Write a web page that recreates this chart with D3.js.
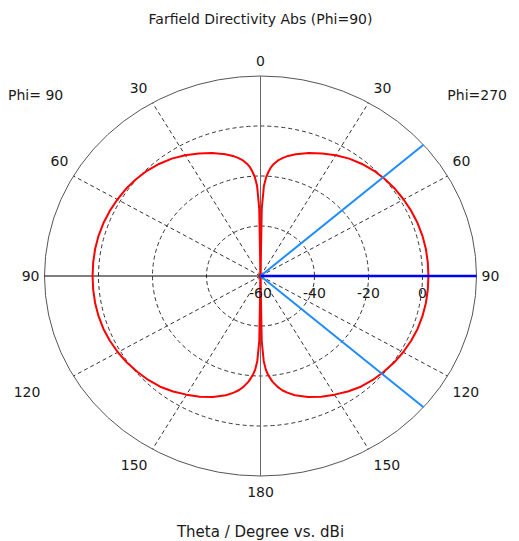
<!DOCTYPE html>
<html>
<head>
<meta charset="utf-8">
<script src="https://cdn.jsdelivr.net/npm/d3@7"></script>
<style>
  body { margin: 0; background: #fff; }
  text { font-family: "DejaVu Sans", Verdana, sans-serif; font-size: 14px; fill: #1a1a1a; }
</style>
</head>
<body>
<div id="chart"></div>
<script>
// theta in degrees, directivity in dBi
var thetaDeg = [0, 1, 2, 3, 4, 5, 6, 8, 10, 12, 15, 20, 25, 30, 35, 40, 45, 50, 55, 60,
                65, 70, 75, 80, 85, 90, 95, 100, 105, 110, 115, 120, 125, 130, 135, 140,
                145, 150, 155, 160, 165, 168, 170, 172, 174, 175, 176, 177, 178, 179, 180];
var directivity = [-60, -33, -24, -20.5, -18.3, -16.5, -15.2, -13.3, -12, -10.9, -9.6, -7.6, -5.9, -4.2, -2.7, -1.5, -0.5, 0.2, 0.8, 1.2,
                   1.6, 1.9, 2.1, 2.2, 2.2, 2.2, 2.2, 2.2, 2.1, 1.9, 1.5, 1.0, 0.4, -0.4, -1.2, -2.2,
                   -3.6, -5.2, -6.7, -8.5, -10.6, -12.3, -13.6, -15.3, -17.5, -19, -20.5, -22.5, -26, -34, -60];
var angleTicks = [0, 30, 60, 90, 120, 150, 180];
var spokeAngles = [30, 60, 120, 150];
var ringTicks = [-60, -40, -20, 0];
var ringGrid = [-40, -20, 0];
var mainLobe = 90;
var beamEdges = [49, 131];

var width = 519, height = 541;
var cx = 260.5, cy = 276, rx = 216, ry = 200;

var rX = d3.scaleLinear().domain([-60, 20]).range([0, rx]).clamp(true);
var rY = d3.scaleLinear().domain([-60, 20]).range([0, ry]).clamp(true);

var rad = function(d) { return d * Math.PI / 180; };
function px(th, db, side) { return cx + side * rX(db) * Math.sin(rad(th)); }
function py(th, db) { return cy - rY(db) * Math.cos(rad(th)); }

var svg = d3.select("#chart").append("svg")
        .attr("width", width)
        .attr("height", height);

svg.append("rect").attr("width", width).attr("height", height).attr("fill", "#fff");

// dashed grid rings
svg.selectAll("ellipse.ring").data(ringGrid).enter().append("ellipse")
        .attr("class", "ring")
        .attr("cx", cx).attr("cy", cy)
        .attr("rx", function(d) { return rX(d); })
        .attr("ry", function(d) { return rY(d); })
        .attr("fill", "none")
        .attr("stroke", "#333")
        .attr("stroke-dasharray", "4,3");

// dashed spokes, both sides
var spokes = [];
spokeAngles.forEach(function(a) { spokes.push({a: a, s: 1}); spokes.push({a: a, s: -1}); });
svg.selectAll("line.spoke").data(spokes).enter().append("line")
        .attr("class", "spoke")
        .attr("x1", cx).attr("y1", cy)
        .attr("x2", function(d) { return px(d.a, 20, d.s); })
        .attr("y2", function(d) { return py(d.a, 20); })
        .attr("stroke", "#333")
        .attr("stroke-dasharray", "4,3");

// outer ellipse
svg.append("ellipse")
        .attr("cx", cx).attr("cy", cy)
        .attr("rx", rX(20)).attr("ry", rY(20))
        .attr("fill", "none")
        .attr("stroke", "#555");

// axes 0/180 and left 90
svg.append("line")
        .attr("x1", cx).attr("y1", py(0, 20))
        .attr("x2", cx).attr("y2", py(180, 20))
        .attr("stroke", "#666");
svg.append("line")
        .attr("x1", px(90, 20, -1)).attr("y1", cy)
        .attr("x2", cx).attr("y2", cy)
        .attr("stroke", "#000");

// pattern, right and left halves
var line = d3.line()
        .x(function(d) { return px(d[0], d[1], d[2]); })
        .y(function(d) { return py(d[0], d[1]); });

[1, -1].forEach(function(side) {
    var pts = thetaDeg.map(function(t, i) { return [t, directivity[i], side]; });
    svg.append("path")
            .attr("d", line(pts))
            .attr("fill", "none")
            .attr("stroke", "#ff0000")
            .attr("stroke-width", 2)
            .attr("stroke-linejoin", "round");
});

// main lobe and 3 dB beam width
svg.selectAll("line.beam").data(beamEdges).enter().append("line")
        .attr("class", "beam")
        .attr("x1", cx).attr("y1", cy)
        .attr("x2", function(d) { return px(d, 20, 1); })
        .attr("y2", function(d) { return py(d, 20); })
        .attr("stroke", "#1e8cff")
        .attr("stroke-width", 2);
svg.append("line")
        .attr("x1", cx).attr("y1", cy)
        .attr("x2", px(mainLobe, 20, 1)).attr("y2", py(mainLobe, 20))
        .attr("stroke", "#0000ff")
        .attr("stroke-width", 2.5);

// angle labels
var labels = [];
angleTicks.forEach(function(a) {
    labels.push({a: a, s: 1});
    if (a % 180 !== 0) labels.push({a: a, s: -1});
});
svg.selectAll("text.angle").data(labels).enter().append("text")
        .attr("class", "angle")
        .attr("x", function(d) {
            var off = d.a % 180 === 0 ? 0 : d.s * 5;
            if (d.s < 0 && d.a === 120) off = -33;   // sits further out in the original
            return px(d.a, 20, d.s) + off;
        })
        .attr("y", function(d) {
            var c = Math.cos(rad(d.a));
            return py(d.a, 20) + (c > 0.01 ? -15 : c < -0.01 ? 16 : 0);
        })
        .attr("dy", "0.36em")
        .attr("text-anchor", function(d) { return d.a % 180 === 0 ? "middle" : (d.s > 0 ? "start" : "end"); })
        .text(function(d) { return d.a; });

// dB labels
svg.selectAll("text.db").data(ringTicks).enter().append("text")
        .attr("class", "db")
        .attr("x", function(d) { return cx + rX(d); })
        .attr("y", cy + 22)
        .attr("text-anchor", "middle")
        .text(function(d) { return d; });

svg.append("text")
        .attr("x", cx).attr("y", 24)
        .attr("text-anchor", "middle")
        .text("Farfield Directivity Abs (Phi=90)");
svg.append("text")
        .attr("x", 8).attr("y", 100)
        .text("Phi= 90");
svg.append("text")
        .attr("x", 507).attr("y", 100)
        .attr("text-anchor", "end")
        .text("Phi=270");
svg.append("text")
        .attr("x", cx).attr("y", 537)
        .attr("text-anchor", "middle")
        .style("font-size", "15px")
        .text("Theta / Degree vs. dBi");
</script>
</body>
</html>
